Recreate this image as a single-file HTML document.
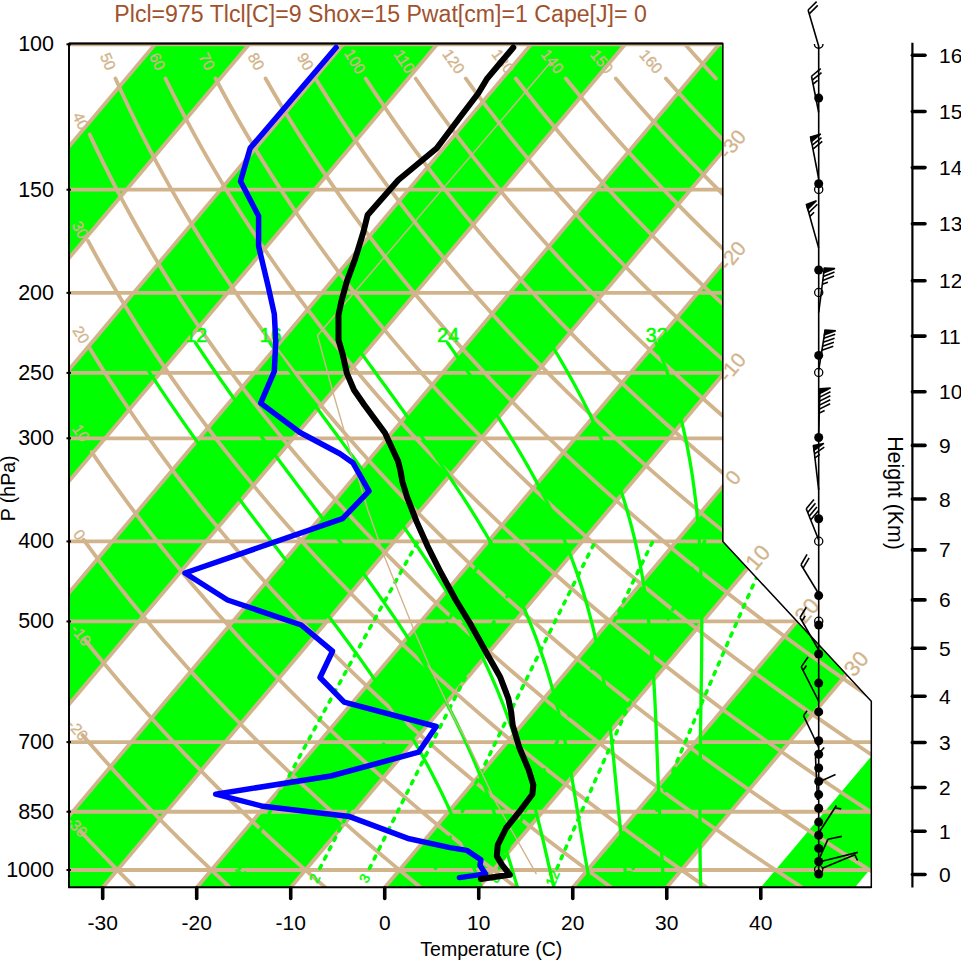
<!DOCTYPE html><html><head><meta charset="utf-8"><style>html,body{margin:0;padding:0;background:#fff;}svg{display:block;}text{font-family:"Liberation Sans",sans-serif;}</style></head><body>
<svg width="961" height="961" viewBox="0 0 961 961">
<defs><clipPath id="cp"><polygon points="68.70,887.51 871.30,887.51 871.30,701.34 723.32,541.49 723.32,44.30 68.70,44.30"/></clipPath></defs>
<g clip-path="url(#cp)"><polygon points="-760.26,907.48 -2.36,7.96 91.65,7.96 -666.24,907.48" fill="#00ff00"/><polygon points="-572.23,907.48 185.67,7.96 279.68,7.96 -478.21,907.48" fill="#00ff00"/><polygon points="-384.20,907.48 373.69,7.96 467.71,7.96 -290.19,907.48" fill="#00ff00"/><polygon points="-196.17,907.48 561.72,7.96 655.74,7.96 -102.16,907.48" fill="#00ff00"/><polygon points="-8.14,907.48 749.75,7.96 843.76,7.96 85.87,907.48" fill="#00ff00"/><polygon points="179.88,907.48 937.78,7.96 1031.79,7.96 273.90,907.48" fill="#00ff00"/><polygon points="367.91,907.48 1125.81,7.96 1219.82,7.96 461.93,907.48" fill="#00ff00"/><polygon points="555.94,907.48 1313.83,7.96 1407.85,7.96 649.95,907.48" fill="#00ff00"/><polygon points="743.97,907.48 1501.86,7.96 1595.88,7.96 837.98,907.48" fill="#00ff00"/><line x1="60" y1="870.02" x2="880" y2="870.02" stroke="#d2b48c" stroke-width="3.8"/><line x1="60" y1="811.74" x2="880" y2="811.74" stroke="#d2b48c" stroke-width="3.8"/><line x1="60" y1="742.12" x2="880" y2="742.12" stroke="#d2b48c" stroke-width="3.8"/><line x1="60" y1="621.46" x2="880" y2="621.46" stroke="#d2b48c" stroke-width="3.8"/><line x1="60" y1="541.44" x2="880" y2="541.44" stroke="#d2b48c" stroke-width="3.8"/><line x1="60" y1="438.28" x2="880" y2="438.28" stroke="#d2b48c" stroke-width="3.8"/><line x1="60" y1="372.90" x2="880" y2="372.90" stroke="#d2b48c" stroke-width="3.8"/><line x1="60" y1="292.88" x2="880" y2="292.88" stroke="#d2b48c" stroke-width="3.8"/><line x1="60" y1="189.71" x2="880" y2="189.71" stroke="#d2b48c" stroke-width="3.8"/><line x1="60" y1="44.32" x2="880" y2="44.32" stroke="#d2b48c" stroke-width="3.8"/><polyline points="-854.27,907.48 -96.38,7.96" fill="none" stroke="#d2b48c" stroke-width="3.8"/><polyline points="-760.26,907.48 -2.36,7.96" fill="none" stroke="#d2b48c" stroke-width="3.8"/><polyline points="-666.24,907.48 91.65,7.96" fill="none" stroke="#d2b48c" stroke-width="3.8"/><polyline points="-572.23,907.48 185.67,7.96" fill="none" stroke="#d2b48c" stroke-width="3.8"/><polyline points="-478.21,907.48 279.68,7.96" fill="none" stroke="#d2b48c" stroke-width="3.8"/><polyline points="-384.20,907.48 373.69,7.96" fill="none" stroke="#d2b48c" stroke-width="3.8"/><polyline points="-290.19,907.48 467.71,7.96" fill="none" stroke="#d2b48c" stroke-width="3.8"/><polyline points="-196.17,907.48 561.72,7.96" fill="none" stroke="#d2b48c" stroke-width="3.8"/><polyline points="-102.16,907.48 655.74,7.96" fill="none" stroke="#d2b48c" stroke-width="3.8"/><polyline points="-8.14,907.48 749.75,7.96" fill="none" stroke="#d2b48c" stroke-width="3.8"/><polyline points="85.87,907.48 843.76,7.96" fill="none" stroke="#d2b48c" stroke-width="3.8"/><polyline points="179.88,907.48 937.78,7.96" fill="none" stroke="#d2b48c" stroke-width="3.8"/><polyline points="273.90,907.48 1031.79,7.96" fill="none" stroke="#d2b48c" stroke-width="3.8"/><polyline points="367.91,907.48 1125.81,7.96" fill="none" stroke="#d2b48c" stroke-width="3.8"/><polyline points="461.93,907.48 1219.82,7.96" fill="none" stroke="#d2b48c" stroke-width="3.8"/><polyline points="555.94,907.48 1313.83,7.96" fill="none" stroke="#d2b48c" stroke-width="3.8"/><polyline points="649.95,907.48 1407.85,7.96" fill="none" stroke="#d2b48c" stroke-width="3.8"/><polyline points="115.43,78.49 121.67,92.26 128.10,106.03 134.73,119.80 141.56,133.57 148.60,147.34 155.84,161.11 163.29,174.88 170.95,188.65 178.82,202.42 186.91,216.19 195.21,229.96 203.74,243.73 212.48,257.50 221.45,271.27 230.65,285.04 240.08,298.81 249.74,312.58 259.63,326.35 269.76,340.12 280.13,353.89 290.74,367.66 301.60,381.43 312.70,395.20 324.06,408.97 335.67,422.74 347.53,436.51 359.66,450.28 372.04,464.05 384.69,477.82 397.61,491.59 410.80,505.36 424.26,519.13 438.00,532.90 452.01,546.67 466.31,560.44 480.90,574.21 495.77,587.98 510.94,601.75 526.40,615.52 542.16,629.29 558.22,643.06 574.59,656.83 591.27,670.60 608.26,684.37 625.56,698.14 643.18,711.91 661.12,725.68 679.40,739.45 698.00,753.22 716.93,766.99 736.20,780.76 755.81,794.53 775.76,808.29 796.07,822.06 816.72,835.83 837.73,849.60 859.10,863.37 880.84,877.14 902.94,890.91" fill="none" stroke="#d2b48c" stroke-width="3.8" stroke-linecap="round"/><polyline points="165.47,78.49 172.26,92.26 179.25,106.03 186.45,119.80 193.85,133.57 201.46,147.34 209.29,161.11 217.33,174.88 225.58,188.65 234.06,202.42 242.75,216.19 251.67,229.96 260.82,243.73 270.19,257.50 279.80,271.27 289.64,285.04 299.72,298.81 310.04,312.58 320.59,326.35 331.40,340.12 342.45,353.89 353.75,367.66 365.30,381.43 377.11,395.20 389.17,408.97 401.50,422.74 414.09,436.51 426.95,450.28 440.07,464.05 453.47,477.82 467.15,491.59 481.11,505.36 495.34,519.13 509.86,532.90 524.67,546.67 539.78,560.44 555.17,574.21 570.87,587.98 586.86,601.75 603.16,615.52 619.77,629.29 636.69,643.06 653.92,656.83 671.47,670.60 689.34,684.37 707.54,698.14 726.07,711.91 744.93,725.68 764.12,739.45 783.66,753.22 803.53,766.99 823.76,780.76 844.33,794.53 865.27,808.29 886.56,822.06 908.21,835.83 930.23,849.60 952.62,863.37 975.39,877.14 998.53,890.91" fill="none" stroke="#d2b48c" stroke-width="3.8" stroke-linecap="round"/><polyline points="215.51,78.49 222.85,92.26 230.40,106.03 238.16,119.80 246.13,133.57 254.32,147.34 262.73,161.11 271.36,174.88 280.21,188.65 289.29,202.42 298.59,216.19 308.13,229.96 317.90,243.73 327.90,257.50 338.15,271.27 348.63,285.04 359.36,298.81 370.33,312.58 381.56,326.35 393.03,340.12 404.76,353.89 416.75,367.66 429.00,381.43 441.51,395.20 454.28,408.97 467.33,422.74 480.65,436.51 494.24,450.28 508.11,464.05 522.26,477.82 536.69,491.59 551.42,505.36 566.43,519.13 581.73,532.90 597.34,546.67 613.24,560.44 629.45,574.21 645.96,587.98 662.78,601.75 679.92,615.52 697.37,629.29 715.15,643.06 733.25,656.83 751.67,670.60 770.43,684.37 789.52,698.14 808.95,711.91 828.73,725.68 848.85,739.45 869.32,753.22 890.14,766.99 911.32,780.76 932.86,794.53 954.77,808.29 977.05,822.06 999.70,835.83 1022.73,849.60 1046.14,863.37 1069.93,877.14 1094.12,890.91" fill="none" stroke="#d2b48c" stroke-width="3.8" stroke-linecap="round"/><polyline points="265.55,78.49 273.44,92.26 281.55,106.03 289.88,119.80 298.42,133.57 307.19,147.34 316.18,161.11 325.39,174.88 334.84,188.65 344.52,202.42 354.44,216.19 364.59,229.96 374.98,243.73 385.62,257.50 396.50,271.27 407.62,285.04 419.00,298.81 430.63,312.58 442.52,326.35 454.67,340.12 467.08,353.89 479.75,367.66 492.70,381.43 505.91,395.20 519.40,408.97 533.16,422.74 547.20,436.51 561.53,450.28 576.14,464.05 591.04,477.82 606.24,491.59 621.73,505.36 637.51,519.13 653.60,532.90 670.00,546.67 686.70,560.44 703.72,574.21 721.05,587.98 738.71,601.75 756.68,615.52 774.98,629.29 793.61,643.06 812.58,656.83 831.88,670.60 851.52,684.37 871.51,698.14 891.84,711.91 912.53,725.68 933.57,739.45 954.98,753.22 976.74,766.99 998.88,780.76 1021.39,794.53 1044.27,808.29 1067.54,822.06 1091.19,835.83 1115.22,849.60 1139.66,863.37 1164.48,877.14 1189.71,890.91" fill="none" stroke="#d2b48c" stroke-width="3.8" stroke-linecap="round"/><polyline points="315.59,78.49 324.04,92.26 332.70,106.03 341.59,119.80 350.70,133.57 360.05,147.34 369.62,161.11 379.43,174.88 389.47,188.65 399.76,202.42 410.28,216.19 421.05,229.96 432.06,243.73 443.33,257.50 454.84,271.27 466.61,285.04 478.64,298.81 490.93,312.58 503.49,326.35 516.31,340.12 529.40,353.89 542.76,367.66 556.40,381.43 570.31,395.20 584.51,408.97 598.99,422.74 613.76,436.51 628.82,450.28 644.18,464.05 659.83,477.82 675.78,491.59 692.04,505.36 708.60,519.13 725.47,532.90 742.66,546.67 760.17,560.44 778.00,574.21 796.15,587.98 814.63,601.75 833.44,615.52 852.59,629.29 872.07,643.06 891.90,656.83 912.08,670.60 932.61,684.37 953.49,698.14 974.73,711.91 996.33,725.68 1018.30,739.45 1040.63,753.22 1063.35,766.99 1086.44,780.76 1109.91,794.53 1133.77,808.29 1158.03,822.06 1182.67,835.83 1207.72,849.60 1233.17,863.37 1259.03,877.14 1285.31,890.91" fill="none" stroke="#d2b48c" stroke-width="3.8" stroke-linecap="round"/><polyline points="365.63,78.49 374.63,92.26 383.85,106.03 393.30,119.80 402.99,133.57 412.91,147.34 423.07,161.11 433.46,174.88 444.10,188.65 454.99,202.42 466.12,216.19 477.51,229.96 489.14,243.73 501.04,257.50 513.19,271.27 525.61,285.04 538.29,298.81 551.23,312.58 564.45,326.35 577.95,340.12 591.71,353.89 605.76,367.66 620.10,381.43 634.71,395.20 649.62,408.97 664.82,422.74 680.32,436.51 696.11,450.28 712.21,464.05 728.61,477.82 745.32,491.59 762.35,505.36 779.69,519.13 797.34,532.90 815.33,546.67 833.63,560.44 852.27,574.21 871.24,587.98 890.55,601.75 910.20,615.52 930.19,629.29 950.54,643.06 971.23,656.83 992.28,670.60 1013.69,684.37 1035.47,698.14 1057.61,711.91 1080.13,725.68 1103.02,739.45 1126.29,753.22 1149.95,766.99 1174.00,780.76 1198.44,794.53 1223.28,808.29 1248.52,822.06 1274.16,835.83 1300.22,849.60 1326.69,863.37 1353.58,877.14 1380.90,890.91" fill="none" stroke="#d2b48c" stroke-width="3.8" stroke-linecap="round"/><polyline points="415.67,78.49 425.22,92.26 435.00,106.03 445.02,119.80 455.27,133.57 465.77,147.34 476.51,161.11 487.50,174.88 498.73,188.65 510.22,202.42 521.96,216.19 533.96,229.96 546.22,243.73 558.75,257.50 571.54,271.27 584.60,285.04 597.93,298.81 611.53,312.58 625.42,326.35 639.58,340.12 654.03,353.89 668.77,367.66 683.80,381.43 699.12,395.20 714.73,408.97 730.65,422.74 746.87,436.51 763.40,450.28 780.24,464.05 797.40,477.82 814.87,491.59 832.66,505.36 850.77,519.13 869.21,532.90 887.99,546.67 907.10,560.44 926.54,574.21 946.34,587.98 966.47,601.75 986.96,615.52 1007.80,629.29 1029.00,643.06 1050.56,656.83 1072.49,670.60 1094.78,684.37 1117.45,698.14 1140.50,711.91 1163.93,725.68 1187.75,739.45 1211.95,753.22 1236.56,766.99 1261.56,780.76 1286.97,794.53 1312.78,808.29 1339.01,822.06 1365.65,835.83 1392.72,849.60 1420.21,863.37 1448.13,877.14 1476.49,890.91" fill="none" stroke="#d2b48c" stroke-width="3.8" stroke-linecap="round"/><polyline points="465.71,78.49 475.81,92.26 486.15,106.03 496.73,119.80 507.56,133.57 518.63,147.34 529.96,161.11 541.53,174.88 553.36,188.65 565.45,202.42 577.81,216.19 590.42,229.96 603.31,243.73 616.46,257.50 629.88,271.27 643.59,285.04 657.57,298.81 671.83,312.58 686.38,326.35 701.22,340.12 716.35,353.89 731.77,367.66 747.50,381.43 763.52,395.20 779.85,408.97 796.48,422.74 813.43,436.51 830.69,450.28 848.28,464.05 866.18,477.82 884.41,491.59 902.97,505.36 921.86,519.13 941.08,532.90 960.65,546.67 980.56,560.44 1000.82,574.21 1021.43,587.98 1042.39,601.75 1063.72,615.52 1085.41,629.29 1107.46,643.06 1129.89,656.83 1152.69,670.60 1175.87,684.37 1199.43,698.14 1223.39,711.91 1247.73,725.68 1272.47,739.45 1297.61,753.22 1323.16,766.99 1349.12,780.76 1375.49,794.53 1402.28,808.29 1429.50,822.06 1457.14,835.83 1485.21,849.60 1513.73,863.37 1542.68,877.14 1572.08,890.91" fill="none" stroke="#d2b48c" stroke-width="3.8" stroke-linecap="round"/><polyline points="515.75,78.49 526.40,92.26 537.30,106.03 548.45,119.80 559.84,133.57 571.49,147.34 583.40,161.11 595.57,174.88 607.99,188.65 620.69,202.42 633.65,216.19 646.88,229.96 660.39,243.73 674.17,257.50 688.23,271.27 702.58,285.04 717.21,298.81 732.13,312.58 747.35,326.35 762.86,340.12 778.67,353.89 794.78,367.66 811.19,381.43 827.92,395.20 844.96,408.97 862.31,422.74 879.99,436.51 897.99,450.28 916.31,464.05 934.96,477.82 953.95,491.59 973.28,505.36 992.94,519.13 1012.95,532.90 1033.31,546.67 1054.02,560.44 1075.09,574.21 1096.52,587.98 1118.32,601.75 1140.48,615.52 1163.01,629.29 1185.92,643.06 1209.21,656.83 1232.89,670.60 1256.96,684.37 1281.42,698.14 1306.27,711.91 1331.53,725.68 1357.20,739.45 1383.27,753.22 1409.77,766.99 1436.68,780.76 1464.02,794.53 1491.78,808.29 1519.99,822.06 1548.63,835.83 1577.71,849.60 1607.24,863.37 1637.23,877.14 1667.68,890.91" fill="none" stroke="#d2b48c" stroke-width="3.8" stroke-linecap="round"/><polyline points="565.79,78.49 577.00,92.26 588.45,106.03 600.16,119.80 612.13,133.57 624.36,147.34 636.84,161.11 649.60,174.88 662.62,188.65 675.92,202.42 689.49,216.19 703.34,229.96 717.47,243.73 731.88,257.50 746.58,271.27 761.57,285.04 776.85,298.81 792.43,312.58 808.31,326.35 824.49,340.12 840.98,353.89 857.78,367.66 874.89,381.43 892.32,395.20 910.07,408.97 928.15,422.74 946.55,436.51 965.28,450.28 984.34,464.05 1003.75,477.82 1023.49,491.59 1043.59,505.36 1064.03,519.13 1084.82,532.90 1105.98,546.67 1127.49,560.44 1149.37,574.21 1171.62,587.98 1194.24,601.75 1217.24,615.52 1240.62,629.29 1264.39,643.06 1288.54,656.83 1313.09,670.60 1338.04,684.37 1363.40,698.14 1389.16,711.91 1415.33,725.68 1441.92,739.45 1468.93,753.22 1496.37,766.99 1524.24,780.76 1552.54,794.53 1581.29,808.29 1610.48,822.06 1640.11,835.83 1670.21,849.60 1700.76,863.37 1731.78,877.14 1763.27,890.91" fill="none" stroke="#d2b48c" stroke-width="3.8" stroke-linecap="round"/><polyline points="615.83,78.49 627.59,92.26 639.60,106.03 651.88,119.80 664.41,133.57 677.22,147.34 690.29,161.11 703.63,174.88 717.25,188.65 731.15,202.42 745.33,216.19 759.80,229.96 774.55,243.73 789.59,257.50 804.93,271.27 820.56,285.04 836.49,298.81 852.73,312.58 869.28,326.35 886.13,340.12 903.30,353.89 920.79,367.66 938.59,381.43 956.73,395.20 975.19,408.97 993.98,422.74 1013.10,436.51 1032.57,450.28 1052.38,464.05 1072.53,477.82 1093.04,491.59 1113.90,505.36 1135.11,519.13 1156.69,532.90 1178.64,546.67 1200.95,560.44 1223.64,574.21 1246.71,587.98 1270.16,601.75 1294.00,615.52 1318.23,629.29 1342.85,643.06 1367.87,656.83 1393.30,670.60 1419.13,684.37 1445.38,698.14 1472.05,711.91 1499.13,725.68 1526.65,739.45 1554.59,753.22 1582.98,766.99 1611.80,780.76 1641.07,794.53 1670.79,808.29 1700.97,822.06 1731.60,835.83 1762.70,849.60 1794.28,863.37 1826.33,877.14 1858.86,890.91" fill="none" stroke="#d2b48c" stroke-width="3.8" stroke-linecap="round"/><polyline points="665.87,78.49 678.18,92.26 690.75,106.03 703.59,119.80 716.70,133.57 730.08,147.34 743.73,161.11 757.67,174.88 771.89,188.65 786.39,202.42 801.18,216.19 816.26,229.96 831.63,243.73 847.30,257.50 863.27,271.27 879.55,285.04 896.14,298.81 913.03,312.58 930.24,326.35 947.77,340.12 965.62,353.89 983.79,367.66 1002.29,381.43 1021.13,395.20 1040.30,408.97 1059.81,422.74 1079.66,436.51 1099.86,450.28 1120.41,464.05 1141.32,477.82 1162.58,491.59 1184.21,505.36 1206.20,519.13 1228.56,532.90 1251.30,546.67 1274.42,560.44 1297.92,574.21 1321.80,587.98 1346.08,601.75 1370.76,615.52 1395.83,629.29 1421.31,643.06 1447.20,656.83 1473.50,670.60 1500.22,684.37 1527.36,698.14 1554.93,711.91 1582.93,725.68 1611.37,739.45 1640.25,753.22 1669.58,766.99 1699.36,780.76 1729.60,794.53 1760.29,808.29 1791.46,822.06 1823.09,835.83 1855.20,849.60 1887.80,863.37 1920.88,877.14 1954.45,890.91" fill="none" stroke="#d2b48c" stroke-width="3.8" stroke-linecap="round"/><polyline points="669.25,25.92 680.56,39.06 692.10,52.21 703.89,65.35 715.91,78.49" fill="none" stroke="#d2b48c" stroke-width="3.8" stroke-linecap="round"/><polyline points="89.71,134.50 95.73,147.32 101.92,160.14 108.29,172.96 114.83,185.78 121.55,198.60 128.45,211.42 135.54,224.24 142.80,237.06 150.26,249.89 157.90,262.71 165.73,275.53 173.75,288.35 181.96,301.17 190.37,313.99 198.97,326.81 207.78,339.63 216.79,352.45 226.00,365.27 235.41,378.09 245.04,390.91 254.87,403.73 264.91,416.55 275.17,429.37 285.65,442.19 296.34,455.01 307.25,467.83 318.39,480.66 329.75,493.48 341.34,506.30 353.16,519.12 365.21,531.94 377.50,544.76 390.02,557.58 402.79,570.40 415.79,583.22 429.04,596.04 442.54,608.86 456.28,621.68 470.28,634.50 484.53,647.32 499.04,660.14 513.81,672.96 528.84,685.78 544.14,698.61 559.71,711.43 575.54,724.25 591.65,737.07 608.04,749.89 624.70,762.71 641.65,775.53 658.88,788.35 676.40,801.17 694.21,813.99 712.31,826.81 730.71,839.63 749.41,852.45 768.42,865.27 787.73,878.09 807.35,890.91" fill="none" stroke="#d2b48c" stroke-width="3.8" stroke-linecap="round"/><polyline points="88.12,241.00 94.05,252.02 100.13,263.03 106.34,274.05 112.68,285.06 119.16,296.08 125.79,307.09 132.55,318.11 139.45,329.12 146.50,340.14 153.69,351.15 161.02,362.17 168.50,373.19 176.13,384.20 183.91,395.22 191.84,406.23 199.92,417.25 208.15,428.26 216.54,439.28 225.08,450.29 233.79,461.31 242.64,472.33 251.66,483.34 260.84,494.36 270.19,505.37 279.69,516.39 289.37,527.40 299.21,538.42 309.22,549.43 319.39,560.45 329.74,571.46 340.27,582.48 350.97,593.50 361.84,604.51 372.89,615.53 384.12,626.54 395.53,637.56 407.13,648.57 418.91,659.59 430.87,670.60 443.02,681.62 455.36,692.64 467.89,703.65 480.61,714.67 493.53,725.68 506.64,736.70 519.95,747.71 533.46,758.73 547.17,769.74 561.08,780.76 575.20,791.77 589.52,802.79 604.05,813.81 618.79,824.82 633.75,835.84 648.91,846.85 664.30,857.87 679.90,868.88 695.71,879.90 711.75,890.91" fill="none" stroke="#d2b48c" stroke-width="3.8" stroke-linecap="round"/><polyline points="88.98,347.00 94.61,356.22 100.33,365.44 106.16,374.66 112.08,383.88 118.11,393.09 124.23,402.31 130.46,411.53 136.79,420.75 143.23,429.97 149.77,439.19 156.42,448.41 163.17,457.63 170.03,466.85 177.00,476.06 184.08,485.28 191.26,494.50 198.56,503.72 205.97,512.94 213.48,522.16 221.12,531.38 228.86,540.60 236.72,549.82 244.70,559.03 252.79,568.25 260.99,577.47 269.32,586.69 277.76,595.91 286.33,605.13 295.01,614.35 303.82,623.57 312.74,632.79 321.80,642.00 330.97,651.22 340.27,660.44 349.69,669.66 359.25,678.88 368.93,688.10 378.73,697.32 388.67,706.54 398.74,715.76 408.94,724.97 419.27,734.19 429.74,743.41 440.34,752.63 451.07,761.85 461.95,771.07 472.96,780.29 484.10,789.51 495.39,798.73 506.82,807.94 518.39,817.16 530.10,826.38 541.95,835.60 553.95,844.82 566.10,854.04 578.39,863.26 590.83,872.48 603.42,881.69 616.16,890.91" fill="none" stroke="#d2b48c" stroke-width="3.8" stroke-linecap="round"/><polyline points="91.65,452.00 96.73,459.44 101.87,466.88 107.08,474.32 112.36,481.76 117.70,489.20 123.12,496.64 128.60,504.07 134.16,511.51 139.78,518.95 145.48,526.39 151.24,533.83 157.08,541.27 162.99,548.71 168.97,556.15 175.03,563.59 181.16,571.03 187.36,578.47 193.64,585.91 199.99,593.35 206.41,600.78 212.91,608.22 219.49,615.66 226.15,623.10 232.88,630.54 239.68,637.98 246.57,645.42 253.53,652.86 260.58,660.30 267.70,667.74 274.90,675.18 282.18,682.62 289.54,690.05 296.98,697.49 304.51,704.93 312.11,712.37 319.80,719.81 327.57,727.25 335.43,734.69 343.37,742.13 351.39,749.57 359.50,757.01 367.69,764.45 375.97,771.89 384.34,779.33 392.79,786.76 401.33,794.20 409.96,801.64 418.68,809.08 427.49,816.52 436.38,823.96 445.37,831.40 454.45,838.84 463.61,846.28 472.87,853.72 482.23,861.16 491.67,868.60 501.21,876.04 510.84,883.47 520.57,890.91" fill="none" stroke="#d2b48c" stroke-width="3.8" stroke-linecap="round"/><polyline points="83.58,539.70 87.95,545.65 92.36,551.61 96.82,557.56 101.32,563.51 105.87,569.46 110.46,575.42 115.10,581.37 119.79,587.32 124.52,593.27 129.29,599.23 134.12,605.18 138.99,611.13 143.90,617.09 148.87,623.04 153.88,628.99 158.94,634.94 164.05,640.90 169.20,646.85 174.41,652.80 179.66,658.76 184.96,664.71 190.31,670.66 195.71,676.61 201.16,682.57 206.66,688.52 212.21,694.47 217.81,700.42 223.46,706.38 229.16,712.33 234.91,718.28 240.71,724.24 246.56,730.19 252.47,736.14 258.43,742.09 264.44,748.05 270.50,754.00 276.61,759.95 282.78,765.91 289.00,771.86 295.27,777.81 301.60,783.76 307.98,789.72 314.42,795.67 320.91,801.62 327.46,807.57 334.06,813.53 340.71,819.48 347.42,825.43 354.19,831.39 361.01,837.34 367.89,843.29 374.82,849.24 381.82,855.20 388.87,861.15 395.97,867.10 403.14,873.06 410.36,879.01 417.64,884.96 424.98,890.91" fill="none" stroke="#d2b48c" stroke-width="3.8" stroke-linecap="round"/><polyline points="85.00,640.00 88.41,644.25 91.84,648.51 95.30,652.76 98.77,657.01 102.28,661.26 105.80,665.52 109.36,669.77 112.93,674.02 116.53,678.27 120.15,682.53 123.80,686.78 127.48,691.03 131.17,695.29 134.90,699.54 138.64,703.79 142.41,708.04 146.21,712.30 150.03,716.55 153.88,720.80 157.75,725.06 161.65,729.31 165.57,733.56 169.52,737.81 173.50,742.07 177.50,746.32 181.52,750.57 185.57,754.82 189.65,759.08 193.75,763.33 197.88,767.58 202.04,771.84 206.22,776.09 210.43,780.34 214.66,784.59 218.92,788.85 223.21,793.10 227.52,797.35 231.87,801.61 236.23,805.86 240.63,810.11 245.05,814.36 249.50,818.62 253.98,822.87 258.48,827.12 263.01,831.37 267.57,835.63 272.16,839.88 276.77,844.13 281.41,848.39 286.08,852.64 290.78,856.89 295.51,861.14 300.26,865.40 305.04,869.65 309.86,873.90 314.69,878.16 319.56,882.41 324.46,886.66 329.39,890.91" fill="none" stroke="#d2b48c" stroke-width="3.8" stroke-linecap="round"/><polyline points="82.48,735.00 84.76,737.64 87.05,740.29 89.34,742.93 91.65,745.57 93.97,748.21 96.29,750.86 98.63,753.50 100.97,756.14 103.33,758.78 105.69,761.43 108.06,764.07 110.45,766.71 112.84,769.35 115.24,772.00 117.66,774.64 120.08,777.28 122.51,779.92 124.95,782.57 127.40,785.21 129.87,787.85 132.34,790.49 134.82,793.14 137.31,795.78 139.81,798.42 142.32,801.07 144.85,803.71 147.38,806.35 149.92,808.99 152.47,811.64 155.03,814.28 157.60,816.92 160.18,819.56 162.78,822.21 165.38,824.85 167.99,827.49 170.61,830.13 173.25,832.78 175.89,835.42 178.54,838.06 181.20,840.70 183.88,843.35 186.56,845.99 189.26,848.63 191.96,851.27 194.68,853.92 197.40,856.56 200.14,859.20 202.88,861.85 205.64,864.49 208.41,867.13 211.19,869.77 213.98,872.42 216.77,875.06 219.58,877.70 222.40,880.34 225.24,882.99 228.08,885.63 230.93,888.27 233.79,890.91" fill="none" stroke="#d2b48c" stroke-width="3.8" stroke-linecap="round"/><polyline points="80.98,831.70 81.91,832.70 82.84,833.71 83.77,834.71 84.70,835.71 85.64,836.72 86.57,837.72 87.51,838.73 88.45,839.73 89.39,840.73 90.33,841.74 91.27,842.74 92.21,843.74 93.16,844.75 94.11,845.75 95.05,846.75 96.00,847.76 96.95,848.76 97.91,849.77 98.86,850.77 99.82,851.77 100.77,852.78 101.73,853.78 102.69,854.78 103.65,855.79 104.61,856.79 105.58,857.79 106.54,858.80 107.51,859.80 108.48,860.81 109.45,861.81 110.42,862.81 111.39,863.82 112.36,864.82 113.34,865.82 114.32,866.83 115.29,867.83 116.27,868.83 117.26,869.84 118.24,870.84 119.22,871.84 120.21,872.85 121.19,873.85 122.18,874.86 123.17,875.86 124.16,876.86 125.16,877.87 126.15,878.87 127.15,879.87 128.15,880.88 129.14,881.88 130.14,882.88 131.15,883.89 132.15,884.89 133.15,885.90 134.16,886.90 135.17,887.90 136.18,888.91 137.19,889.91 138.20,890.91" fill="none" stroke="#d2b48c" stroke-width="3.8" stroke-linecap="round"/></g>
<text x="108.11" y="61.40" transform="rotate(66.8 108.11 61.40)" text-anchor="middle" dominant-baseline="central" font-size="15.5" fill="#d2b48c" stroke="#d2b48c" stroke-width="0.35">50</text><text x="157.48" y="61.40" transform="rotate(64.9 157.48 61.40)" text-anchor="middle" dominant-baseline="central" font-size="15.5" fill="#d2b48c" stroke="#d2b48c" stroke-width="0.35">60</text><text x="206.85" y="61.40" transform="rotate(63.1 206.85 61.40)" text-anchor="middle" dominant-baseline="central" font-size="15.5" fill="#d2b48c" stroke="#d2b48c" stroke-width="0.35">70</text><text x="256.22" y="61.40" transform="rotate(61.3 256.22 61.40)" text-anchor="middle" dominant-baseline="central" font-size="15.5" fill="#d2b48c" stroke="#d2b48c" stroke-width="0.35">80</text><text x="305.58" y="61.40" transform="rotate(59.6 305.58 61.40)" text-anchor="middle" dominant-baseline="central" font-size="15.5" fill="#d2b48c" stroke="#d2b48c" stroke-width="0.35">90</text><text x="354.95" y="61.40" transform="rotate(58.0 354.95 61.40)" text-anchor="middle" dominant-baseline="central" font-size="15.5" fill="#d2b48c" stroke="#d2b48c" stroke-width="0.35">100</text><text x="404.32" y="61.40" transform="rotate(56.4 404.32 61.40)" text-anchor="middle" dominant-baseline="central" font-size="15.5" fill="#d2b48c" stroke="#d2b48c" stroke-width="0.35">110</text><text x="453.69" y="61.40" transform="rotate(54.9 453.69 61.40)" text-anchor="middle" dominant-baseline="central" font-size="15.5" fill="#d2b48c" stroke="#d2b48c" stroke-width="0.35">120</text><text x="503.06" y="61.40" transform="rotate(53.4 503.06 61.40)" text-anchor="middle" dominant-baseline="central" font-size="15.5" fill="#d2b48c" stroke="#d2b48c" stroke-width="0.35">130</text><text x="552.42" y="61.40" transform="rotate(52.0 552.42 61.40)" text-anchor="middle" dominant-baseline="central" font-size="15.5" fill="#d2b48c" stroke="#d2b48c" stroke-width="0.35">140</text><text x="601.79" y="61.40" transform="rotate(50.6 601.79 61.40)" text-anchor="middle" dominant-baseline="central" font-size="15.5" fill="#d2b48c" stroke="#d2b48c" stroke-width="0.35">150</text><text x="651.16" y="61.40" transform="rotate(49.3 651.16 61.40)" text-anchor="middle" dominant-baseline="central" font-size="15.5" fill="#d2b48c" stroke="#d2b48c" stroke-width="0.35">160</text><text x="81.00" y="121.00" transform="rotate(64.7 81.00 121.00)" text-anchor="middle" dominant-baseline="central" font-size="15.5" fill="#d2b48c" stroke="#d2b48c" stroke-width="0.35">40</text><text x="80.30" y="230.00" transform="rotate(61.5 80.30 230.00)" text-anchor="middle" dominant-baseline="central" font-size="15.5" fill="#d2b48c" stroke="#d2b48c" stroke-width="0.35">30</text><text x="81.20" y="334.70" transform="rotate(58.4 81.20 334.70)" text-anchor="middle" dominant-baseline="central" font-size="15.5" fill="#d2b48c" stroke="#d2b48c" stroke-width="0.35">20</text><text x="81.00" y="433.00" transform="rotate(55.5 81.00 433.00)" text-anchor="middle" dominant-baseline="central" font-size="15.5" fill="#d2b48c" stroke="#d2b48c" stroke-width="0.35">10</text><text x="79.50" y="534.60" transform="rotate(53.5 79.50 534.60)" text-anchor="middle" dominant-baseline="central" font-size="15.5" fill="#d2b48c" stroke="#d2b48c" stroke-width="0.35">0</text><text x="81.00" y="635.00" transform="rotate(51.0 81.00 635.00)" text-anchor="middle" dominant-baseline="central" font-size="15.5" fill="#d2b48c" stroke="#d2b48c" stroke-width="0.35">-10</text><text x="77.80" y="730.00" transform="rotate(48.9 77.80 730.00)" text-anchor="middle" dominant-baseline="central" font-size="15.5" fill="#d2b48c" stroke="#d2b48c" stroke-width="0.35">-20</text><text x="77.00" y="826.70" transform="rotate(46.9 77.00 826.70)" text-anchor="middle" dominant-baseline="central" font-size="15.5" fill="#d2b48c" stroke="#d2b48c" stroke-width="0.35">-30</text><text x="722.35" y="155.06" transform="rotate(-49.9 722.35 155.06)" text-anchor="start" dominant-baseline="central" font-size="20.5" fill="#d2b48c" stroke="#d2b48c" stroke-width="0.3">-30</text><text x="722.35" y="266.64" transform="rotate(-49.9 722.35 266.64)" text-anchor="start" dominant-baseline="central" font-size="20.5" fill="#d2b48c" stroke="#d2b48c" stroke-width="0.3">-20</text><text x="722.35" y="378.23" transform="rotate(-49.9 722.35 378.23)" text-anchor="start" dominant-baseline="central" font-size="20.5" fill="#d2b48c" stroke="#d2b48c" stroke-width="0.3">-10</text><text x="729.12" y="481.78" transform="rotate(-49.9 729.12 481.78)" text-anchor="start" dominant-baseline="central" font-size="20.5" fill="#d2b48c" stroke="#d2b48c" stroke-width="0.3">0</text><text x="749.84" y="566.76" transform="rotate(-49.9 749.84 566.76)" text-anchor="start" dominant-baseline="central" font-size="22" fill="#d2b48c" stroke="#d2b48c" stroke-width="0.3">10</text><text x="799.06" y="619.93" transform="rotate(-49.9 799.06 619.93)" text-anchor="start" dominant-baseline="central" font-size="22" fill="#d2b48c" stroke="#d2b48c" stroke-width="0.3">20</text><text x="848.28" y="673.09" transform="rotate(-49.9 848.28 673.09)" text-anchor="start" dominant-baseline="central" font-size="22" fill="#d2b48c" stroke="#d2b48c" stroke-width="0.3">30</text>
<g clip-path="url(#cp)"><polyline points="130.78,343.00 134.62,349.11 138.50,355.23 142.42,361.35 146.37,367.47 150.36,373.59 154.39,379.70 158.45,385.82 162.55,391.94 166.68,398.06 170.85,404.18 175.05,410.30 179.28,416.41 183.55,422.53 187.85,428.65 192.17,434.77 196.53,440.89 200.92,447.00 205.33,453.12 209.78,459.24 214.24,465.36 218.74,471.48 223.26,477.60 227.80,483.71 232.36,489.83 236.94,495.95 241.54,502.07 246.16,508.19 250.79,514.30 255.44,520.42 260.10,526.54 264.78,532.66 269.46,538.78 274.15,544.90 278.84,551.01 283.54,557.13 288.25,563.25 292.95,569.37 297.65,575.49 302.34,581.61 307.03,587.72 311.71,593.84 316.37,599.96 321.02,606.08 325.65,612.20 330.26,618.31 334.85,624.43 339.42,630.55 343.95,636.67 348.45,642.79 352.92,648.91 357.35,655.02 361.74,661.14 366.08,667.26 370.39,673.38 374.64,679.50 378.84,685.61 382.99,691.73 387.09,697.85 391.12,703.97 395.10,710.09 399.02,716.21 402.80,722.32 406.55,728.44 410.23,734.56 413.84,740.68 417.37,746.80 420.83,752.91 424.21,759.03 427.53,765.15 430.77,771.27 433.93,777.39 437.03,783.51 440.07,789.62 443.03,795.74 445.93,801.86 448.77,807.98 451.55,814.10 454.28,820.21 456.95,826.33 459.57,832.45 462.14,838.57 464.66,844.69 467.11,850.81 469.57,856.92 471.98,863.04 474.36,869.16 476.69,875.28 479.01,881.40 481.31,887.51" fill="none" stroke="#00ff00" stroke-width="3.3" stroke-linecap="round"/><polyline points="195.67,343.00 199.75,349.11 203.87,355.23 208.03,361.35 212.21,367.47 216.43,373.59 220.67,379.70 224.95,385.82 229.25,391.94 233.59,398.06 237.95,404.18 242.33,410.30 246.74,416.41 251.17,422.53 255.62,428.65 260.10,434.77 264.59,440.89 269.11,447.00 273.64,453.12 278.18,459.24 282.74,465.36 287.31,471.48 291.89,477.60 296.47,483.71 301.07,489.83 305.67,495.95 310.27,502.07 314.88,508.19 319.48,514.30 324.07,520.42 328.67,526.54 333.25,532.66 337.82,538.78 342.38,544.90 346.92,551.01 351.45,557.13 355.95,563.25 360.42,569.37 364.87,575.49 369.29,581.61 373.67,587.72 378.02,593.84 382.33,599.96 386.60,606.08 390.82,612.20 394.99,618.31 399.11,624.43 403.17,630.55 407.18,636.67 411.14,642.79 415.03,648.91 418.85,655.02 422.61,661.14 426.31,667.26 429.93,673.38 433.49,679.50 436.98,685.61 440.39,691.73 443.74,697.85 447.01,703.97 450.19,710.09 453.33,716.21 456.39,722.32 459.38,728.44 462.30,734.56 465.15,740.68 467.94,746.80 470.66,752.91 473.32,759.03 475.92,765.15 478.46,771.27 480.96,777.39 483.40,783.51 485.79,789.62 488.10,795.74 490.33,801.86 492.50,807.98 494.62,814.10 496.69,820.21 498.72,826.33 500.71,832.45 502.66,838.57 504.59,844.69 506.45,850.81 508.34,856.92 510.20,863.04 512.03,869.16 513.86,875.28 515.68,881.40 517.50,887.51" fill="none" stroke="#00ff00" stroke-width="3.3" stroke-linecap="round"/><polyline points="270.14,343.00 274.45,349.11 278.78,355.23 283.13,361.35 287.50,367.47 291.90,373.59 296.31,379.70 300.75,385.82 305.19,391.94 309.66,398.06 314.14,404.18 318.63,410.30 323.13,416.41 327.63,422.53 332.15,428.65 336.67,434.77 341.19,440.89 345.71,447.00 350.24,453.12 354.69,459.24 359.21,465.36 363.71,471.48 368.21,477.60 372.69,483.71 377.16,489.83 381.61,495.95 386.04,502.07 390.45,508.19 394.82,514.30 399.17,520.42 403.48,526.54 407.76,532.66 412.00,538.78 416.20,544.90 420.35,551.01 424.45,557.13 428.51,563.25 432.50,569.37 436.44,575.49 440.33,581.61 444.14,587.72 447.90,593.84 451.59,599.96 455.20,606.08 458.75,612.20 462.23,618.31 465.63,624.43 468.95,630.55 472.20,636.67 475.37,642.79 478.47,648.91 481.49,655.02 484.42,661.14 487.28,667.26 490.07,673.38 492.77,679.50 495.40,685.61 497.96,691.73 500.44,697.85 502.85,703.97 505.19,710.09 507.45,716.21 509.65,722.32 511.79,728.44 513.87,734.56 515.88,740.68 517.84,746.80 519.75,752.91 521.61,759.03 523.42,765.15 525.19,771.27 526.92,777.39 528.61,783.51 530.26,789.62 531.89,795.74 533.48,801.86 535.05,807.98 536.61,814.10 538.14,820.21 539.67,826.33 541.19,832.45 542.67,838.57 544.10,844.69 545.50,850.81 546.91,856.92 548.31,863.04 549.70,869.16 551.09,875.28 552.49,881.40 553.91,887.51" fill="none" stroke="#00ff00" stroke-width="3.3" stroke-linecap="round"/><polyline points="353.99,343.00 358.41,349.11 362.84,355.23 367.28,361.35 371.72,367.47 376.16,373.59 380.61,379.70 385.06,385.82 389.50,391.94 393.94,398.06 398.37,404.18 402.79,410.30 407.20,416.41 411.59,422.53 415.97,428.65 420.32,434.77 424.66,440.89 428.97,447.00 433.25,453.12 437.50,459.24 441.71,465.36 445.89,471.48 449.98,477.60 454.09,483.71 458.14,489.83 462.15,495.95 466.11,502.07 470.01,508.19 473.85,514.30 477.63,520.42 481.35,526.54 485.00,532.66 488.58,538.78 492.10,544.90 495.54,551.01 498.91,557.13 502.20,563.25 505.41,569.37 508.55,575.49 511.61,581.61 514.59,587.72 517.49,593.84 520.31,599.96 523.05,606.08 525.70,612.20 528.28,618.31 530.78,624.43 533.20,630.55 535.54,636.67 537.82,642.79 539.99,648.91 542.08,655.02 544.14,661.14 546.10,667.26 548.00,673.38 549.83,679.50 551.59,685.61 553.29,691.73 554.92,697.85 556.50,703.97 558.02,710.09 559.49,716.21 560.91,722.32 562.27,728.44 563.59,734.56 564.87,740.68 566.11,746.80 567.31,752.91 568.47,759.03 569.57,765.15 570.69,771.27 571.78,777.39 572.84,783.51 573.89,789.62 574.92,795.74 575.94,801.86 576.94,807.98 577.94,814.10 578.95,820.21 579.95,826.33 580.96,832.45 581.97,838.57 582.98,844.69 584.04,850.81 585.12,856.92 586.22,863.04 587.34,869.16 588.47,875.28 589.59,881.40 590.71,887.51" fill="none" stroke="#00ff00" stroke-width="3.3" stroke-linecap="round"/><polyline points="447.71,343.00 452.01,349.11 456.29,355.23 460.55,361.35 464.80,367.47 469.01,373.59 473.20,379.70 477.36,385.82 481.49,391.94 485.58,398.06 489.63,404.18 493.64,410.30 497.60,416.41 501.52,422.53 505.39,428.65 509.20,434.77 512.96,440.89 516.67,447.00 520.31,453.12 523.86,459.24 527.38,465.36 530.84,471.48 534.22,477.60 537.53,483.71 540.76,489.83 543.92,495.95 547.00,502.07 550.00,508.19 552.93,514.30 555.77,520.42 558.54,526.54 561.22,532.66 563.83,538.78 566.35,544.90 568.80,551.01 571.17,557.13 573.45,563.25 575.66,569.37 577.80,575.49 579.85,581.61 581.85,587.72 583.69,593.84 585.57,599.96 587.33,606.08 589.02,612.20 590.64,618.31 592.20,624.43 593.69,630.55 595.11,636.67 596.47,642.79 597.77,648.91 599.02,655.02 600.21,661.14 601.34,667.26 602.43,673.38 603.47,679.50 604.46,685.61 605.40,691.73 606.31,697.85 607.17,703.97 608.00,710.09 608.79,716.21 609.56,722.32 610.29,728.44 611.00,734.56 611.68,740.68 612.33,746.80 612.97,752.91 613.60,759.03 614.20,765.15 614.76,771.27 615.36,777.39 615.96,783.51 616.54,789.62 617.12,795.74 617.70,801.86 618.29,807.98 618.88,814.10 619.49,820.21 620.11,826.33 620.75,832.45 621.44,838.57 622.14,844.69 622.81,850.81 623.54,856.92 624.27,863.04 625.00,869.16 625.76,875.28 626.54,881.40 627.35,887.51" fill="none" stroke="#00ff00" stroke-width="3.3" stroke-linecap="round"/><polyline points="550.44,343.00 554.14,349.11 557.79,355.23 561.38,361.35 564.92,367.47 568.39,373.59 571.80,379.70 575.15,385.82 578.43,391.94 581.64,398.06 584.78,404.18 587.84,410.30 590.84,416.41 593.74,422.53 596.59,428.65 599.36,434.77 602.05,440.89 604.66,447.00 607.19,453.12 609.63,459.24 612.00,465.36 614.29,471.48 616.50,477.60 618.63,483.71 620.69,489.83 622.67,495.95 624.58,502.07 626.41,508.19 628.18,514.30 629.87,520.42 631.50,526.54 633.06,532.66 634.58,538.78 635.98,544.90 637.34,551.01 638.63,557.13 639.87,563.25 641.04,569.37 642.15,575.49 643.20,581.61 644.12,587.72 645.06,593.84 645.95,599.96 646.79,606.08 647.58,612.20 648.33,618.31 649.03,624.43 649.69,630.55 650.31,636.67 650.95,642.79 651.49,648.91 652.00,655.02 652.47,661.14 652.92,667.26 653.34,673.38 653.73,679.50 654.09,685.61 654.44,691.73 654.77,697.85 655.07,703.97 655.36,710.09 655.64,716.21 655.90,722.32 656.16,728.44 656.40,734.56 656.64,740.68 656.87,746.80 657.10,752.91 657.33,759.03 657.56,765.15 657.76,771.27 658.01,777.39 658.26,783.51 658.55,789.62 658.85,795.74 659.14,801.86 659.43,807.98 659.71,814.10 660.00,820.21 660.30,826.33 660.60,832.45 660.91,838.57 661.23,844.69 661.54,850.81 661.90,856.92 662.27,863.04 662.66,869.16 663.06,875.28 663.50,881.40 663.96,887.51" fill="none" stroke="#00ff00" stroke-width="3.3" stroke-linecap="round"/><polyline points="656.20,343.00 658.64,349.11 661.01,355.23 663.29,361.35 665.50,367.47 667.64,373.59 669.68,379.70 671.64,385.82 673.52,391.94 675.38,398.06 677.12,404.18 678.79,410.30 680.39,416.41 681.92,422.53 683.37,428.65 684.76,434.77 686.07,440.89 687.32,447.00 688.50,453.12 689.62,459.24 690.68,465.36 691.68,471.48 692.61,477.60 693.42,483.71 694.28,489.83 695.03,495.95 695.85,502.07 696.55,508.19 697.09,514.30 697.66,520.42 698.18,526.54 698.66,532.66 699.10,538.78 699.50,544.90 699.86,551.01 700.18,557.13 700.47,563.25 700.72,569.37 700.95,575.49 701.14,581.61 701.30,587.72 701.44,593.84 701.55,599.96 701.63,606.08 701.70,612.20 701.74,618.31 701.76,624.43 701.77,630.55 701.75,636.67 701.73,642.79 701.69,648.91 701.67,655.02 701.60,661.14 701.52,667.26 701.43,673.38 701.34,679.50 701.25,685.61 701.15,691.73 701.05,697.85 700.95,703.97 700.86,710.09 700.76,716.21 700.67,722.32 700.59,728.44 700.51,734.56 700.47,740.68 700.44,746.80 700.39,752.91 700.32,759.03 700.28,765.15 700.23,771.27 700.19,777.39 700.14,783.51 700.09,789.62 700.05,795.74 700.01,801.86 699.98,807.98 699.96,814.10 699.94,820.21 699.93,826.33 699.94,832.45 699.96,838.57 699.99,844.69 700.03,850.81 700.11,856.92 700.19,863.04 700.30,869.16 700.43,875.28 700.59,881.40 700.77,887.51" fill="none" stroke="#00ff00" stroke-width="3.3" stroke-linecap="round"/><polyline points="238.79,870.02 244.81,858.69 250.85,847.36 256.89,836.03 262.95,824.70 269.01,813.37 275.09,802.04 281.18,790.71 287.29,779.38 293.40,768.05 299.52,756.72 305.66,745.38 311.80,734.05 317.96,722.72 324.13,711.39 330.31,700.06 336.50,688.73 342.70,677.40 348.91,666.07 355.13,654.74 361.37,643.41 367.61,632.08 373.86,620.75 380.13,609.42 386.40,598.09 392.69,586.76 398.98,575.43 405.29,564.10 411.61,552.77 417.93,541.44" fill="none" stroke="#00ff00" stroke-width="3.6" stroke-dasharray="3.2 7.3" stroke-dashoffset="-1.8" stroke-linecap="round"/><polyline points="319.02,870.02 324.76,858.69 330.52,847.36 336.30,836.03 342.09,824.70 347.89,813.37 353.70,802.04 359.53,790.71 365.37,779.38 371.22,768.05 377.08,756.72 382.96,745.38 388.85,734.05 394.75,722.72 400.66,711.39 406.59,700.06 412.53,688.73 418.48,677.40 424.44,666.07 430.42,654.74 436.41,643.41 442.40,632.08 448.41,620.75 454.44,609.42 460.47,598.09 466.52,586.76 472.57,575.43 478.64,564.10 484.72,552.77 490.81,541.44" fill="none" stroke="#00ff00" stroke-width="3.6" stroke-dasharray="3.2 7.3" stroke-dashoffset="-1.8" stroke-linecap="round"/><polyline points="368.76,870.02 374.33,858.69 379.92,847.36 385.52,836.03 391.14,824.70 396.77,813.37 402.41,802.04 408.07,790.71 413.74,779.38 419.42,768.05 425.12,756.72 430.83,745.38 436.55,734.05 442.29,722.72 448.04,711.39 453.80,700.06 459.58,688.73 465.37,677.40 471.18,666.07 476.99,654.74 482.82,643.41 488.66,632.08 494.52,620.75 500.38,609.42 506.26,598.09 512.16,586.76 518.06,575.43 523.98,564.10 529.91,552.77 535.85,541.44" fill="none" stroke="#00ff00" stroke-width="3.6" stroke-dasharray="3.2 7.3" stroke-dashoffset="-1.8" stroke-linecap="round"/><polyline points="434.62,870.02 439.95,858.69 445.30,847.36 450.66,836.03 456.04,824.70 461.44,813.37 466.85,802.04 472.27,790.71 477.72,779.38 483.17,768.05 488.64,756.72 494.13,745.38 499.63,734.05 505.14,722.72 510.67,711.39 516.21,700.06 521.77,688.73 527.34,677.40 532.93,666.07 538.53,654.74 544.14,643.41 549.77,632.08 555.41,620.75 561.07,609.42 566.73,598.09 572.42,586.76 578.11,575.43 583.82,564.10 589.55,552.77 595.28,541.44" fill="none" stroke="#00ff00" stroke-width="3.6" stroke-dasharray="3.2 7.3" stroke-dashoffset="-1.8" stroke-linecap="round"/><polyline points="498.50,870.02 503.60,858.69 508.71,847.36 513.84,836.03 518.98,824.70 524.15,813.37 529.32,802.04 534.52,790.71 539.73,779.38 544.95,768.05 550.20,756.72 555.46,745.38 560.73,734.05 566.02,722.72 571.33,711.39 576.65,700.06 581.99,688.73 587.34,677.40 592.71,666.07 598.09,654.74 603.49,643.41 608.91,632.08 614.34,620.75 619.78,609.42 625.24,598.09 630.72,586.76 636.20,575.43 641.71,564.10 647.23,552.77 652.76,541.44" fill="none" stroke="#00ff00" stroke-width="3.6" stroke-dasharray="3.2 7.3" stroke-dashoffset="-1.8" stroke-linecap="round"/><polyline points="556.24,870.02 561.11,858.69 566.00,847.36 570.91,836.03 575.84,824.70 580.78,813.37 585.74,802.04 590.73,790.71 595.72,779.38 600.74,768.05 605.77,756.72 610.82,745.38 615.89,734.05 620.97,722.72 626.07,711.39 631.19,700.06 636.32,688.73 641.47,677.40 646.64,666.07 651.82,654.74 657.03,643.41 662.24,632.08 667.47,620.75 672.72,609.42 677.99,598.09 683.27,586.76 688.57,575.43 693.88,564.10 699.21,552.77 704.55,541.44" fill="none" stroke="#00ff00" stroke-width="3.6" stroke-dasharray="3.2 7.3" stroke-dashoffset="-1.8" stroke-linecap="round"/><polyline points="632.42,870.02 637.00,858.69 641.59,847.36 646.20,836.03 650.83,824.70 655.48,813.37 660.16,802.04 664.85,790.71 669.55,779.38 674.28,768.05 679.03,756.72 683.80,745.38 688.58,734.05 693.39,722.72 698.21,711.39 703.05,700.06 707.91,688.73 712.78,677.40 717.68,666.07 722.59,654.74 727.52,643.41 732.47,632.08 737.44,620.75 742.42,609.42 747.42,598.09 752.44,586.76 757.48,575.43 762.53,564.10 767.60,552.77 772.69,541.44" fill="none" stroke="#00ff00" stroke-width="3.6" stroke-dasharray="3.2 7.3" stroke-dashoffset="-1.8" stroke-linecap="round"/></g>
<text x="131.28" y="335.00" text-anchor="middle" dominant-baseline="central" font-size="19.5" fill="#00ff00" stroke="#00ff00" stroke-width="0.6">8</text><text x="196.17" y="335.00" text-anchor="middle" dominant-baseline="central" font-size="19.5" fill="#00ff00" stroke="#00ff00" stroke-width="0.6">12</text><text x="270.64" y="335.00" text-anchor="middle" dominant-baseline="central" font-size="19.5" fill="#00ff00" stroke="#00ff00" stroke-width="0.6">16</text><text x="354.49" y="335.00" text-anchor="middle" dominant-baseline="central" font-size="19.5" fill="#00ff00" stroke="#00ff00" stroke-width="0.6">20</text><text x="448.21" y="335.00" text-anchor="middle" dominant-baseline="central" font-size="19.5" fill="#00ff00" stroke="#00ff00" stroke-width="0.6">24</text><text x="550.94" y="335.00" text-anchor="middle" dominant-baseline="central" font-size="19.5" fill="#00ff00" stroke="#00ff00" stroke-width="0.6">28</text><text x="656.70" y="335.00" text-anchor="middle" dominant-baseline="central" font-size="19.5" fill="#00ff00" stroke="#00ff00" stroke-width="0.6">32</text><text x="239.50" y="872.00" transform="rotate(-62.0 239.50 872.00)" text-anchor="middle" dominant-baseline="central" font-size="14" fill="#00ff00" stroke="#00ff00" stroke-width="0.5">1</text><text x="314.53" y="878.37" transform="rotate(-63.1 314.53 878.37)" text-anchor="middle" dominant-baseline="central" font-size="14" fill="#00ff00" stroke="#00ff00" stroke-width="0.5">2</text><text x="364.42" y="878.37" transform="rotate(-63.8 364.42 878.37)" text-anchor="middle" dominant-baseline="central" font-size="14" fill="#00ff00" stroke="#00ff00" stroke-width="0.5">3</text><text x="430.46" y="878.37" transform="rotate(-64.7 430.46 878.37)" text-anchor="middle" dominant-baseline="central" font-size="14" fill="#00ff00" stroke="#00ff00" stroke-width="0.5">5</text><text x="494.54" y="878.37" transform="rotate(-65.7 494.54 878.37)" text-anchor="middle" dominant-baseline="central" font-size="14" fill="#00ff00" stroke="#00ff00" stroke-width="0.5">8</text><text x="552.44" y="878.37" transform="rotate(-66.7 552.44 878.37)" text-anchor="middle" dominant-baseline="central" font-size="14" fill="#00ff00" stroke="#00ff00" stroke-width="0.5">12</text><text x="628.86" y="878.37" transform="rotate(-68.0 628.86 878.37)" text-anchor="middle" dominant-baseline="central" font-size="14" fill="#00ff00" stroke="#00ff00" stroke-width="0.5">20</text>
<polygon points="69.00,43.50 722.80,43.50 722.80,541.50 871.30,701.30 871.30,887.30 69.00,887.30" fill="none" stroke="#000" stroke-width="1.5"/>
<polyline points="69,43.5 722.8,43.5" stroke="#000" stroke-width="1.8" fill="none"/>
<polyline points="69,43.5 69,887.3 871.3,887.3" stroke="#000" stroke-width="1.8" fill="none"/>
<line x1="66.5" y1="44.32" x2="71" y2="44.32" stroke="#000" stroke-width="2"/><text x="54.00" y="44.32" text-anchor="end" dominant-baseline="central" font-size="21.5" fill="#000">100</text><line x1="66.5" y1="189.71" x2="71" y2="189.71" stroke="#000" stroke-width="2"/><text x="54.00" y="189.71" text-anchor="end" dominant-baseline="central" font-size="21.5" fill="#000">150</text><line x1="66.5" y1="292.88" x2="71" y2="292.88" stroke="#000" stroke-width="2"/><text x="54.00" y="292.88" text-anchor="end" dominant-baseline="central" font-size="21.5" fill="#000">200</text><line x1="66.5" y1="372.90" x2="71" y2="372.90" stroke="#000" stroke-width="2"/><text x="54.00" y="372.90" text-anchor="end" dominant-baseline="central" font-size="21.5" fill="#000">250</text><line x1="66.5" y1="438.28" x2="71" y2="438.28" stroke="#000" stroke-width="2"/><text x="54.00" y="438.28" text-anchor="end" dominant-baseline="central" font-size="21.5" fill="#000">300</text><line x1="66.5" y1="541.44" x2="71" y2="541.44" stroke="#000" stroke-width="2"/><text x="54.00" y="541.44" text-anchor="end" dominant-baseline="central" font-size="21.5" fill="#000">400</text><line x1="66.5" y1="621.46" x2="71" y2="621.46" stroke="#000" stroke-width="2"/><text x="54.00" y="621.46" text-anchor="end" dominant-baseline="central" font-size="21.5" fill="#000">500</text><line x1="66.5" y1="742.12" x2="71" y2="742.12" stroke="#000" stroke-width="2"/><text x="54.00" y="742.12" text-anchor="end" dominant-baseline="central" font-size="21.5" fill="#000">700</text><line x1="66.5" y1="811.74" x2="71" y2="811.74" stroke="#000" stroke-width="2"/><text x="54.00" y="811.74" text-anchor="end" dominant-baseline="central" font-size="21.5" fill="#000">850</text><line x1="66.5" y1="870.02" x2="71" y2="870.02" stroke="#000" stroke-width="2"/><text x="54.00" y="870.02" text-anchor="end" dominant-baseline="central" font-size="21.5" fill="#000">1000</text><text transform="translate(15.1 488.4) rotate(-90)" text-anchor="middle" font-size="19.5" fill="#000">P (hPa)</text><line x1="102.69" y1="888" x2="102.69" y2="898.5" stroke="#000" stroke-width="3.6" stroke-linecap="round"/><text x="102.69" y="922.50" text-anchor="middle" dominant-baseline="central" font-size="21" fill="#000">-30</text><line x1="196.70" y1="888" x2="196.70" y2="898.5" stroke="#000" stroke-width="3.6" stroke-linecap="round"/><text x="196.70" y="922.50" text-anchor="middle" dominant-baseline="central" font-size="21" fill="#000">-20</text><line x1="290.72" y1="888" x2="290.72" y2="898.5" stroke="#000" stroke-width="3.6" stroke-linecap="round"/><text x="290.72" y="922.50" text-anchor="middle" dominant-baseline="central" font-size="21" fill="#000">-10</text><line x1="384.73" y1="888" x2="384.73" y2="898.5" stroke="#000" stroke-width="3.6" stroke-linecap="round"/><text x="384.73" y="922.50" text-anchor="middle" dominant-baseline="central" font-size="21" fill="#000">0</text><line x1="478.75" y1="888" x2="478.75" y2="898.5" stroke="#000" stroke-width="3.6" stroke-linecap="round"/><text x="478.75" y="922.50" text-anchor="middle" dominant-baseline="central" font-size="21" fill="#000">10</text><line x1="572.76" y1="888" x2="572.76" y2="898.5" stroke="#000" stroke-width="3.6" stroke-linecap="round"/><text x="572.76" y="922.50" text-anchor="middle" dominant-baseline="central" font-size="21" fill="#000">20</text><line x1="666.77" y1="888" x2="666.77" y2="898.5" stroke="#000" stroke-width="3.6" stroke-linecap="round"/><text x="666.77" y="922.50" text-anchor="middle" dominant-baseline="central" font-size="21" fill="#000">30</text><line x1="760.79" y1="888" x2="760.79" y2="898.5" stroke="#000" stroke-width="3.6" stroke-linecap="round"/><text x="760.79" y="922.50" text-anchor="middle" dominant-baseline="central" font-size="21" fill="#000">40</text><text x="491.30" y="949.00" text-anchor="middle" dominant-baseline="central" font-size="19.5" fill="#000">Temperature (C)</text>
<polyline points="551.00,62.00 317.50,335.50 332.40,390.30 347.30,441.60 367.60,509.20 383.80,555.00 415.00,632.50 431.25,670.00 455.00,720.00 466.20,740.00 495.90,802.40 536.40,874.20" fill="none" stroke="#d2b48c" stroke-width="1.4"/>
<polyline points="336.10,47.50 250.20,148.10 240.50,181.30 258.60,216.00 258.60,246.20 268.30,286.90 274.30,314.00 275.80,341.20 274.30,371.40 260.70,403.10 300.00,432.50 340.00,453.70 353.10,463.10 369.00,491.20 342.50,518.70 185.00,573.00 227.50,600.00 301.20,625.00 332.50,651.20 320.00,677.50 344.20,702.20 436.20,726.50 418.60,752.20 330.70,776.00 215.70,794.20 263.00,806.30 349.60,816.60 409.20,838.80 450.00,847.60 466.90,850.40 480.90,859.80 480.00,865.40 485.60,873.90 459.40,877.60" fill="none" stroke="#0000ff" stroke-width="5.5" stroke-linejoin="round" stroke-linecap="round"/>
<polyline points="513.30,47.50 500.00,63.30 486.70,79.20 478.30,93.30 461.70,115.00 436.70,148.30 398.30,180.00 367.60,215.00 363.50,231.60 355.20,258.70 346.80,281.60 341.60,300.30 338.50,314.90 338.50,339.80 342.70,354.40 346.80,373.10 354.00,390.00 364.40,405.00 385.00,433.10 398.10,461.20 400.30,470.00 402.50,482.00 407.10,497.10 416.50,521.40 427.40,545.80 440.90,572.80 455.80,600.00 470.00,623.30 486.70,653.30 500.00,676.70 508.30,698.30 511.20,712.00 512.70,725.00 519.30,747.50 528.70,769.90 533.30,784.90 532.40,794.30 521.20,809.30 506.20,828.00 497.80,844.80 496.80,856.10 502.40,865.40 509.90,874.80 480.90,879.00" fill="none" stroke="#000" stroke-width="6" stroke-linejoin="round" stroke-linecap="round"/>
<g stroke="#000" stroke-width="1.6" fill="none"><line x1="818.7" y1="46" x2="818.7" y2="874"/><line x1="818.70" y1="46.25" x2="808.10" y2="10.00"/><line x1="808.10" y1="10.00" x2="816.63" y2="1.56"/><line x1="809.22" y1="13.84" x2="817.75" y2="5.40"/><line x1="818.70" y1="112.50" x2="811.50" y2="76.25"/><line x1="811.50" y1="76.25" x2="820.74" y2="68.60"/><line x1="812.28" y1="80.17" x2="821.52" y2="72.52"/><line x1="813.06" y1="84.10" x2="817.68" y2="80.27"/><line x1="818.70" y1="178.75" x2="810.60" y2="136.90"/><polygon points="810.60,136.90 820.79,134.00 811.51,141.61" fill="#000"/><line x1="812.20" y1="145.15" x2="821.48" y2="137.54"/><line x1="812.96" y1="149.07" x2="822.24" y2="141.46"/><line x1="818.70" y1="248.10" x2="806.50" y2="204.50"/><polygon points="806.50,204.50 816.42,200.78 807.79,209.12" fill="#000"/><line x1="808.76" y1="212.59" x2="817.39" y2="204.25"/><line x1="809.84" y1="216.44" x2="814.16" y2="212.27"/><line x1="818.70" y1="312.50" x2="824.40" y2="268.10"/><polygon points="824.40,268.10 834.99,268.54 823.79,272.86" fill="#000"/><line x1="823.33" y1="276.43" x2="834.53" y2="272.11"/><line x1="822.82" y1="280.40" x2="834.02" y2="276.08"/><line x1="822.31" y1="284.37" x2="827.91" y2="282.21"/><line x1="818.70" y1="370.00" x2="825.20" y2="330.00"/><polygon points="825.20,330.00 835.76,330.80 824.43,334.74" fill="#000"/><line x1="823.85" y1="338.29" x2="835.19" y2="334.35"/><line x1="823.21" y1="342.24" x2="834.55" y2="338.30"/><line x1="822.57" y1="346.19" x2="833.90" y2="342.25"/><line x1="821.93" y1="350.14" x2="833.26" y2="346.20"/><line x1="818.70" y1="433.00" x2="820.00" y2="388.75"/><polygon points="820.00,388.75 830.58,388.15 819.86,393.55" fill="#000"/><line x1="819.75" y1="397.15" x2="830.47" y2="391.75"/><line x1="819.64" y1="401.14" x2="830.35" y2="395.75"/><line x1="819.52" y1="405.14" x2="830.24" y2="399.75"/><line x1="819.40" y1="409.14" x2="830.12" y2="403.75"/><line x1="819.28" y1="413.14" x2="824.64" y2="410.44"/><line x1="818.70" y1="490.00" x2="813.50" y2="445.60"/><polygon points="813.50,445.60 823.88,443.47 814.06,450.37" fill="#000"/><line x1="814.48" y1="453.94" x2="824.30" y2="447.05"/><line x1="814.94" y1="457.92" x2="819.85" y2="454.47"/><line x1="818.70" y1="540.00" x2="806.25" y2="508.75"/><line x1="806.25" y1="508.75" x2="813.94" y2="499.54"/><line x1="807.73" y1="512.47" x2="815.42" y2="503.26"/><line x1="809.21" y1="516.18" x2="816.90" y2="506.97"/><line x1="810.69" y1="519.90" x2="818.39" y2="510.69"/><line x1="818.70" y1="593.75" x2="801.00" y2="564.75"/><line x1="801.00" y1="564.75" x2="807.04" y2="554.38"/><line x1="803.08" y1="568.16" x2="809.12" y2="557.79"/><line x1="818.70" y1="650.00" x2="800.00" y2="617.50"/><line x1="800.00" y1="617.50" x2="806.30" y2="607.29"/><line x1="801.99" y1="620.97" x2="805.15" y2="615.86"/><line x1="818.70" y1="701.25" x2="801.25" y2="666.90"/><line x1="801.25" y1="666.90" x2="808.08" y2="657.03"/><line x1="803.06" y1="670.47" x2="806.47" y2="665.53"/><line x1="818.70" y1="747.50" x2="803.50" y2="715.60"/><line x1="803.50" y1="715.60" x2="807.04" y2="710.75"/><line x1="820" y1="781.4" x2="835.5" y2="774.6"/><line x1="819.5" y1="831.8" x2="836.4" y2="805.5"/><line x1="835.5" y1="808" x2="841.2" y2="808.9"/><line x1="819.5" y1="858.1" x2="828" y2="839.2"/><line x1="828" y1="839.2" x2="841.8" y2="836.4"/><line x1="822.9" y1="861" x2="857.8" y2="852.4"/><line x1="821.7" y1="868.4" x2="854.9" y2="854.7"/><line x1="854.9" y1="854.7" x2="857.5" y2="860.5"/><line x1="817.5" y1="800" x2="815.5" y2="757"/><line x1="815.5" y1="757" x2="824.2" y2="747.5"/><circle cx="818.7" cy="189.4" r="4.1" stroke-width="1.3"/><circle cx="818.7" cy="292.5" r="4.1" stroke-width="1.3"/><circle cx="818.7" cy="372.5" r="4.1" stroke-width="1.3"/><circle cx="818.7" cy="541.25" r="4.1" stroke-width="1.3"/><circle cx="818.7" cy="621.25" r="4.1" stroke-width="1.3"/><circle cx="818.7" cy="869.5" r="4.1" stroke-width="1.3"/><path d="M814.4000000000001,44 A4.3,4.3 0 0 0 823.0,44" stroke-width="1.4"/></g><circle cx="818.7" cy="98.1" r="4.5" fill="#000"/><circle cx="818.7" cy="183.75" r="4.5" fill="#000"/><circle cx="818.7" cy="270" r="4.5" fill="#000"/><circle cx="818.7" cy="355.4" r="4.5" fill="#000"/><circle cx="818.7" cy="437.5" r="4.5" fill="#000"/><circle cx="818.7" cy="518.75" r="4.5" fill="#000"/><circle cx="818.7" cy="595.6" r="4.5" fill="#000"/><circle cx="818.7" cy="625" r="4.5" fill="#000"/><circle cx="818.7" cy="654" r="4.5" fill="#000"/><circle cx="818.7" cy="683.1" r="4.5" fill="#000"/><circle cx="818.7" cy="711.9" r="4.5" fill="#000"/><circle cx="818.7" cy="740.8" r="4.5" fill="#000"/><circle cx="818.7" cy="754.2" r="4.5" fill="#000"/><circle cx="818.7" cy="768" r="4.5" fill="#000"/><circle cx="818.7" cy="781.4" r="4.5" fill="#000"/><circle cx="818.7" cy="794.6" r="4.5" fill="#000"/><circle cx="818.7" cy="808.3" r="4.5" fill="#000"/><circle cx="818.7" cy="822.1" r="4.5" fill="#000"/><circle cx="818.7" cy="835.2" r="4.5" fill="#000"/><circle cx="818.7" cy="848.4" r="4.5" fill="#000"/><circle cx="818.7" cy="861.5" r="4.5" fill="#000"/><circle cx="818.7" cy="874.1" r="4.5" fill="#000"/>
<line x1="912.4" y1="42.7" x2="912.4" y2="887.4" stroke="#000" stroke-width="2.2"/><line x1="912.4" y1="874.5" x2="925" y2="874.5" stroke="#000" stroke-width="3.6" stroke-linecap="round"/><text x="939.00" y="874.50" text-anchor="start" dominant-baseline="central" font-size="21" fill="#000">0</text><line x1="912.4" y1="831.2" x2="925" y2="831.2" stroke="#000" stroke-width="3.6" stroke-linecap="round"/><text x="939.00" y="831.20" text-anchor="start" dominant-baseline="central" font-size="21" fill="#000">1</text><line x1="912.4" y1="787.5" x2="925" y2="787.5" stroke="#000" stroke-width="3.6" stroke-linecap="round"/><text x="939.00" y="787.50" text-anchor="start" dominant-baseline="central" font-size="21" fill="#000">2</text><line x1="912.4" y1="742.5" x2="925" y2="742.5" stroke="#000" stroke-width="3.6" stroke-linecap="round"/><text x="939.00" y="742.50" text-anchor="start" dominant-baseline="central" font-size="21" fill="#000">3</text><line x1="912.4" y1="696.3" x2="925" y2="696.3" stroke="#000" stroke-width="3.6" stroke-linecap="round"/><text x="939.00" y="696.30" text-anchor="start" dominant-baseline="central" font-size="21" fill="#000">4</text><line x1="912.4" y1="648.3" x2="925" y2="648.3" stroke="#000" stroke-width="3.6" stroke-linecap="round"/><text x="939.00" y="648.30" text-anchor="start" dominant-baseline="central" font-size="21" fill="#000">5</text><line x1="912.4" y1="599.9" x2="925" y2="599.9" stroke="#000" stroke-width="3.6" stroke-linecap="round"/><text x="939.00" y="599.90" text-anchor="start" dominant-baseline="central" font-size="21" fill="#000">6</text><line x1="912.4" y1="549.9" x2="925" y2="549.9" stroke="#000" stroke-width="3.6" stroke-linecap="round"/><text x="939.00" y="549.90" text-anchor="start" dominant-baseline="central" font-size="21" fill="#000">7</text><line x1="912.4" y1="499" x2="925" y2="499" stroke="#000" stroke-width="3.6" stroke-linecap="round"/><text x="939.00" y="499.00" text-anchor="start" dominant-baseline="central" font-size="21" fill="#000">8</text><line x1="912.4" y1="445.4" x2="925" y2="445.4" stroke="#000" stroke-width="3.6" stroke-linecap="round"/><text x="939.00" y="445.40" text-anchor="start" dominant-baseline="central" font-size="21" fill="#000">9</text><line x1="912.4" y1="391.7" x2="925" y2="391.7" stroke="#000" stroke-width="3.6" stroke-linecap="round"/><text x="939.00" y="391.70" text-anchor="start" dominant-baseline="central" font-size="21" fill="#000">10</text><line x1="912.4" y1="336.1" x2="925" y2="336.1" stroke="#000" stroke-width="3.6" stroke-linecap="round"/><text x="939.00" y="336.10" text-anchor="start" dominant-baseline="central" font-size="21" fill="#000">11</text><line x1="912.4" y1="280.8" x2="925" y2="280.8" stroke="#000" stroke-width="3.6" stroke-linecap="round"/><text x="939.00" y="280.80" text-anchor="start" dominant-baseline="central" font-size="21" fill="#000">12</text><line x1="912.4" y1="223.7" x2="925" y2="223.7" stroke="#000" stroke-width="3.6" stroke-linecap="round"/><text x="939.00" y="223.70" text-anchor="start" dominant-baseline="central" font-size="21" fill="#000">13</text><line x1="912.4" y1="167.6" x2="925" y2="167.6" stroke="#000" stroke-width="3.6" stroke-linecap="round"/><text x="939.00" y="167.60" text-anchor="start" dominant-baseline="central" font-size="21" fill="#000">14</text><line x1="912.4" y1="111.5" x2="925" y2="111.5" stroke="#000" stroke-width="3.6" stroke-linecap="round"/><text x="939.00" y="111.50" text-anchor="start" dominant-baseline="central" font-size="21" fill="#000">15</text><line x1="912.4" y1="55.3" x2="925" y2="55.3" stroke="#000" stroke-width="3.6" stroke-linecap="round"/><text x="939.00" y="55.30" text-anchor="start" dominant-baseline="central" font-size="21" fill="#000">16</text><text transform="translate(888.4 493) rotate(90)" text-anchor="middle" font-size="21.3" fill="#000">Height (Km)</text>
<text x="380.60" y="14.00" text-anchor="middle" dominant-baseline="central" font-size="23" fill="#a0522d" textLength="532.5" lengthAdjust="spacingAndGlyphs">Plcl=975 Tlcl[C]=9 Shox=15 Pwat[cm]=1 Cape[J]= 0</text>
</svg></body></html>
